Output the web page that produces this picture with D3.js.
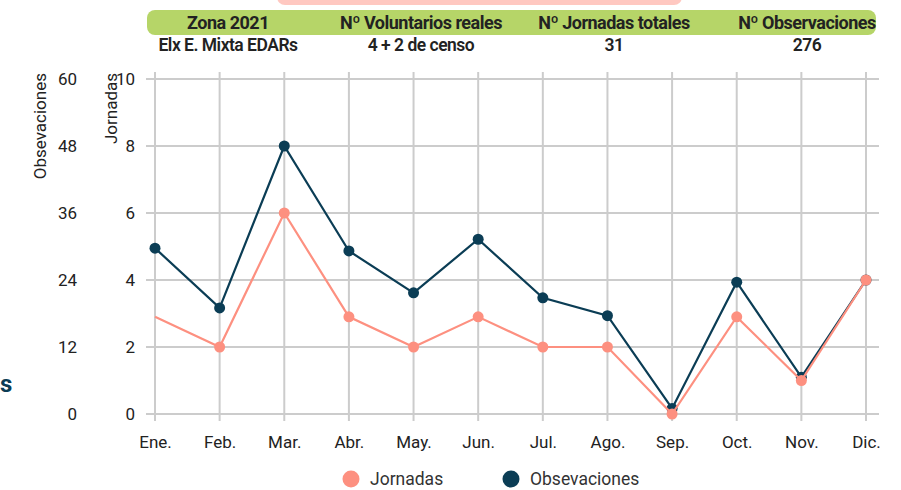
<!DOCTYPE html>
<html><head><meta charset="utf-8">
<script src="https://cdn.jsdelivr.net/npm/d3@7"></script>
<style>
body{margin:0;background:#fff;}
svg{display:block;font-family:Roboto,"Noto Sans",sans-serif;}
</style></head>
<body><svg id="c" width="901" height="490"></svg>
<script>
const months = ["Ene.","Feb.","Mar.","Abr.","May.","Jun.","Jul.","Ago.","Sep.","Oct.","Nov.","Dic."];
const jornadas = [2.9,2,6,2.9,2,2.9,2,2,0,2.9,1,4];
const observaciones = [29.7,19,48,29.2,21.7,31.3,20.8,17.6,1,23.6,6.6,24];
const jornadasTicks = [0,2,4,6,8,10];
const obsTicks = [0,12,24,36,48,60];
const headerLabels = ["Zona 2021","Nº Voluntarios reales","Nº Jornadas totales","Nº Observaciones"];
const headerValues = ["Elx E. Mixta EDARs","4 + 2 de censo","31","276"];
const legendItems = ["Jornadas","Obsevaciones"];

const pink = "#fd9080", dark = "#0b3d55", grid = "#cccccc", txt = "#222";
const svg = d3.select("#c");

// header
svg.append("rect").attr("x",277).attr("y",-15).attr("width",405).attr("height",20).attr("rx",8).attr("fill","#ffc8c1");
svg.append("rect").attr("x",147).attr("y",10).attr("width",729).attr("height",25).attr("rx",8).attr("fill","#b6d568");
const hx = d3.scalePoint().domain(d3.range(4)).range([228,807]);
headerLabels.forEach((t,i)=>{
  svg.append("text").attr("x",hx(i)).attr("y",29).attr("text-anchor","middle")
    .attr("font-size",18).attr("font-weight",700).attr("fill",txt).attr("letter-spacing",-0.5).text(t);
  svg.append("text").attr("x",hx(i)).attr("y",51).attr("text-anchor","middle")
    .attr("font-size",17.5).attr("font-weight",600).attr("fill",txt).attr("letter-spacing",-0.5).text(headerValues[i]);
});

const x = d3.scalePoint().domain(months).range([155,866]);
const yJ = d3.scaleLinear().domain([0,10]).range([414,79]);
const yO = d3.scaleLinear().domain([0,60]).range([414,79]);

// vertical grid
svg.append("g").selectAll("line").data(months).join("line")
  .attr("x1",d=>x(d)).attr("x2",d=>x(d)).attr("y1",72).attr("y2",421)
  .attr("stroke",grid).attr("stroke-width",2);
// horizontal grid
svg.append("g").selectAll("line").data(jornadasTicks).join("line")
  .attr("x1",146).attr("x2",879).attr("y1",d=>yJ(d)).attr("y2",d=>yJ(d))
  .attr("stroke",grid).attr("stroke-width",2);

// x axis labels
const xa = svg.append("g").attr("transform","translate(0,421)")
  .call(d3.axisBottom(x).tickSize(0).tickPadding(15));
xa.select(".domain").remove();
xa.selectAll("text").attr("font-size",17).attr("fill",txt).attr("font-family","Roboto");

// y axes
const ya = svg.append("g").attr("transform","translate(135,0)")
  .call(d3.axisLeft(yJ).tickValues(jornadasTicks).tickSize(0).tickPadding(0));
ya.select(".domain").remove();
ya.selectAll("text").attr("font-size",17).attr("fill",txt).attr("font-family","Roboto");
const yb = svg.append("g").attr("transform","translate(77,0)")
  .call(d3.axisLeft(yO).tickValues(obsTicks).tickSize(0).tickPadding(0));
yb.select(".domain").remove();
yb.selectAll("text").attr("font-size",17).attr("fill",txt).attr("font-family","Roboto");

svg.append("text").attr("transform","translate(46,73) rotate(-90)").attr("text-anchor","end")
  .attr("font-size",17).attr("fill",txt).text("Obsevaciones");
svg.append("text").attr("transform","translate(117,73) rotate(-90)").attr("text-anchor","end")
  .attr("font-size",17).attr("fill",txt).text("Jornadas");

svg.append("text").attr("x",0).attr("y",392).attr("font-size",24).attr("font-weight",700).attr("fill",dark).text("s");

// lines
const lineJ = d3.line().x((d,i)=>x(months[i])).y(d=>yJ(d));
const lineO = d3.line().x((d,i)=>x(months[i])).y(d=>yO(d));
svg.append("path").datum(observaciones).attr("d",lineO).attr("fill","none").attr("stroke",dark).attr("stroke-width",2.2);
svg.append("g").selectAll("circle").data(observaciones).join("circle")
  .attr("cx",(d,i)=>x(months[i])).attr("cy",d=>yO(d)).attr("r",5.5).attr("fill",dark);
svg.append("path").datum(jornadas).attr("d",lineJ).attr("fill","none").attr("stroke",pink).attr("stroke-width",2.2);
svg.append("g").selectAll("circle").data(jornadas).join("circle").filter((d,i)=>i>0)
  .attr("cx",(d,i)=>x(months[i+1])).attr("cy",d=>yJ(d)).attr("r",5.5).attr("fill",pink);

// legend
const lx = [351,511], lc=[pink,dark];
legendItems.forEach((t,i)=>{
  svg.append("circle").attr("cx",lx[i]).attr("cy",479).attr("r",8.5).attr("fill",lc[i]);
  svg.append("text").attr("x",lx[i]+19).attr("y",485).attr("font-size",17.5).attr("fill","#333").text(t);
});
</script></body></html>
